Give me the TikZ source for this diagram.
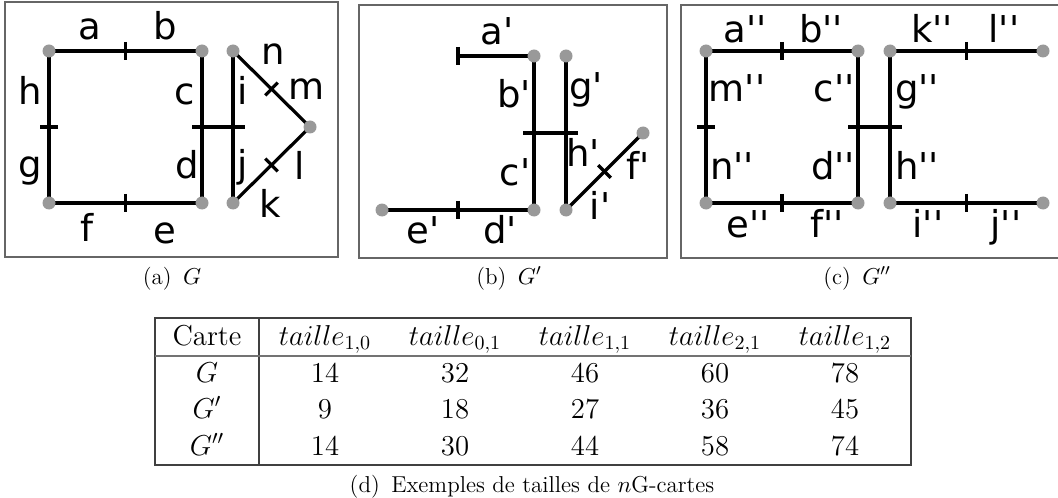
\documentclass[tikz,border=0pt]{standalone}
\usepackage{fix-cm}
\usepackage{fontspec}
\newfontfamily\lblfont[Ligatures=TeXOff]{DejaVu Sans}
\usetikzlibrary{calc}

% tick across the middle of an edge
\newcommand{\edgetick}[2]{%
  \draw[edge] ($(#1)!0.5!(#2)!4.5pt!90:(#2)$) -- ($(#1)!0.5!(#2)!4.5pt!-90:(#2)$);}
% tick at the free end of a half edge
\newcommand{\freetick}[2]{%
  \draw[edge] ($(#1)!4.5pt!90:(#2)$) -- ($(#1)!4.5pt!-90:(#2)$);}

\begin{document}
\begin{tikzpicture}[x=0.5pt, y=-0.5pt,
  edge/.style={line width=1.6pt},
  vtx/.style={fill=black!40},
  frame/.style={draw=black!60, line width=0.6pt},
  lbl/.style={anchor=base, inner sep=0pt, font=\lblfont\fontsize{18.5}{20}\selectfont},
  capt/.style={anchor=base, inner sep=0pt, font=\fontsize{11.5}{13}\selectfont},
  cell/.style={anchor=base, inner sep=0pt, font=\fontsize{14.4}{17}\selectfont},
  rule/.style={draw=black!75, line width=0.6pt},
  headrule/.style={draw=black!55, line width=1pt}]
\useasboundingbox (0,0) rectangle (1058,497);

% frames
\draw[frame] (5,2) rectangle (338,257);
\draw[frame] (359,5) rectangle (667,258);
\draw[frame] (1058,5) -- (681,5) -- (681,258) -- (1058,258);

% G
\coordinate (a1) at (49,51);
\coordinate (a2) at (202,51);
\coordinate (a3) at (233,51);
\coordinate (a4) at (310,127);
\coordinate (a5) at (49,203);
\coordinate (a6) at (202,203);
\coordinate (a7) at (233,203);
\coordinate (ax1) at (192,127);
\coordinate (ax2) at (245,127);
\foreach \p/\q in {a1/a2, a1/a5, a5/a6, a2/a6, a3/a7, a3/a4, a4/a7, ax1/ax2}
  \draw[edge] (\p) -- (\q);
\foreach \p/\q in {a1/a2, a1/a5, a5/a6, a3/a4, a4/a7}
  \edgetick{\p}{\q};
\foreach \v in {a1,a2,a3,a4,a5,a6,a7}
  \fill[vtx] (\v) circle (3.25pt);
\foreach \t/\x/\y [count=\n] in {a/90/40, b/165/40, h/30/105, g/30/177, c/185/105,
    d/187/178, i/243/105, j/243/177, n/273/65, m/307/100, l/300/180, k/270/217,
    f/87/241, e/165/243}
  \node[lbl] (la\n) at (\x,\y) {\t};

% G'
\coordinate (b0) at (458,56);
\coordinate (b1) at (534,56);
\coordinate (b2) at (566,56);
\coordinate (b3) at (643,133);
\coordinate (b4) at (382,210);
\coordinate (b5) at (534,210);
\coordinate (b6) at (566,210);
\coordinate (bx1) at (523,133);
\coordinate (bx2) at (578,133);
\foreach \p/\q in {b0/b1, b1/b5, b2/b6, b4/b5, b6/b3, bx1/bx2}
  \draw[edge] (\p) -- (\q);
\freetick{b0}{b1}
\foreach \p/\q in {b4/b5, b6/b3}
  \edgetick{\p}{\q};
\foreach \v in {b1,b2,b3,b4,b5,b6}
  \fill[vtx] (\v) circle (3.25pt);
\foreach \t/\x/\y [count=\n] in {a'/497/45, b'/514/108, g'/586/100, c'/515/185,
    h'/583/167, f'/638/180, i'/600/220, e'/423/243, d'/500/243}
  \node[lbl] (lb\n) at (\x,\y) {\t};

% G''
\coordinate (c1) at (706,51);
\coordinate (c2) at (858,51);
\coordinate (c3) at (890,51);
\coordinate (c4) at (1043,51);
\coordinate (c5) at (706,203);
\coordinate (c6) at (858,203);
\coordinate (c7) at (890,203);
\coordinate (c8) at (1043,203);
\coordinate (cx1) at (848,127);
\coordinate (cx2) at (902,127);
\foreach \p/\q in {c1/c2, c1/c5, c5/c6, c2/c6, c3/c7, c3/c4, c7/c8, cx1/cx2}
  \draw[edge] (\p) -- (\q);
\foreach \p/\q in {c1/c2, c1/c5, c5/c6, c3/c4, c7/c8}
  \edgetick{\p}{\q};
\foreach \v in {c1,c2,c3,c4,c5,c6,c7,c8}
  \fill[vtx] (\v) circle (3.25pt);
\foreach \t/\x/\y [count=\n] in {a''/745/43, b''/821/43, k''/932/43, l''/1004/43,
    m''/737/102, c''/834/102, g''/917/102, n''/732/180, d''/833/180, h''/917/180,
    e''/748/237, f''/827/237, i''/928/237, j''/1006/237}
  \node[lbl] (lc\n) at (\x,\y) {\t};

% captions
\node[capt] (capa) at (172,284) {(a)\enspace$G$};
\node[capt] (capb) at (509,284) {(b)\enspace$G'$};
\node[capt] (capc) at (857,284) {(c)\enspace$G''$};

% table
\draw[rule] (155,318) rectangle (911,465);
\draw[rule] (259,318) -- (259,465);
\draw[headrule] (155,356) -- (911,356);
\node[cell] (hd0) at (207,345) {Carte};
\foreach \s [count=\c] in {{1,0},{0,1},{1,1},{2,1},{1,2}}
  \node[cell] (hd\c) at (195+130*\c,345) {$taille_{\s}$};
\foreach \g/\y/\vals [count=\r] in {G/382/{14,32,46,60,78}, G'/418/{9,18,27,36,45},
    G''/455/{14,30,44,58,74}} {
  \node[cell] (g\r) at (207,\y) {$\g$};
  \foreach \v [count=\c] in \vals
    \node[cell] (v\r-\c) at (195+130*\c,\y) {\v};
}
\node[capt] (capd) at (532,492) {(d)\enspace Exemples de tailles de $n$G-cartes};
\end{tikzpicture}
\end{document}
